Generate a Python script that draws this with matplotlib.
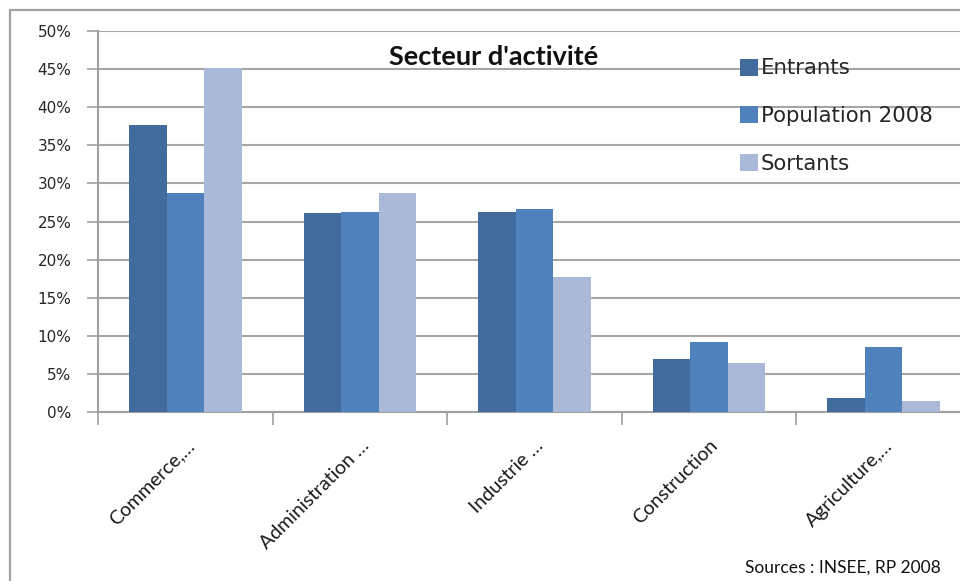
import matplotlib.pyplot as plt
import numpy as np
from matplotlib.patches import Rectangle
from matplotlib.ticker import FuncFormatter

# Secteur d'activité des actifs : entrants, population 2008, sortants
secteurs = ["Commerce,…", "Administration …", "Industrie …", "Construction", "Agriculture,…"]
entrants = [37.7, 26.1, 26.3, 6.9, 1.8]
population_2008 = [28.7, 26.2, 26.6, 9.2, 8.5]
sortants = [45.1, 28.7, 17.7, 6.4, 1.4]

series = [("Entrants", entrants, "#416A9D"),
          ("Population 2008", population_2008, "#4F81BD"),
          ("Sortants", sortants, "#AAB9D7")]

W, H = 960, 581
fig = plt.figure(figsize=(W / 100, H / 100), dpi=100)
fig.patch.set_facecolor("white")

# cadre du graphique
fig.patches.append(Rectangle((10 / W, -0.1), 1.2, 1.1 - 10 / H, transform=fig.transFigure,
                             fill=False, edgecolor="#A0A0A0", linewidth=1.6))

ax = fig.add_axes([98 / W, 1 - 412 / H, 873 / W, 381 / H])
x = np.arange(len(secteurs))
bw = 0.215
for i, (nom, vals, col) in enumerate(series):
    ax.bar(x + (i - 1) * bw, vals, bw, color=col, label=nom, zorder=3)

ax.set_xlim(-0.5, len(secteurs) - 0.5)
ax.set_ylim(0, 50)
ax.set_yticks(np.arange(0, 51, 5))
ax.yaxis.set_major_formatter(FuncFormatter(lambda v, p: f"{v:.0f}%"))
ax.grid(axis="y", color="#A6A6A6", linewidth=1.5, zorder=0)

for s in ["top", "right"]:
    ax.spines[s].set_visible(False)
for s in ["left", "bottom"]:
    ax.spines[s].set_color("#A0A0A0")
    ax.spines[s].set_linewidth(1.5)

ax.tick_params(axis="y", length=8, width=1.2, color="#A0A0A0", labelsize=11,
               labelcolor="#262626", pad=11)
for t in ax.get_yticklabels():
    t.set_family("DejaVu Sans")
ax.set_xticks(x)
ax.set_xticklabels(secteurs, rotation=45, ha="right", rotation_mode="anchor",
                   fontsize=14, family="Lato", color="#1a1a1a")
ax.tick_params(axis="x", which="major", length=0, pad=18)
ax.set_xticks(np.arange(-0.5, len(secteurs), 1), minor=True)
ax.tick_params(axis="x", which="minor", length=9, width=1.2, color="#A0A0A0")

ax.text(0.453, 0.932, "Secteur d'activité", transform=ax.transAxes, ha="center",
        va="center", fontsize=19.5, fontweight="bold", family="Lato", color="#111111")

leg = ax.legend(loc="upper left", bbox_to_anchor=(731 / W, 1 - 50 / H),
                bbox_transform=fig.transFigure, frameon=False,
                prop={"family": "DejaVu Sans", "size": 15.3},
                handlelength=0.85, handleheight=0.85, handletextpad=0.15,
                labelspacing=1.3, borderaxespad=0)
for t in leg.get_texts():
    t.set_color("#262626")

fig.text(745 / W, 1 - 568 / H, "Sources : INSEE, RP 2008", ha="left", va="center",
         fontsize=12.5, family="Lato", color="#111111")

fig.savefig("out.png", dpi=100)
